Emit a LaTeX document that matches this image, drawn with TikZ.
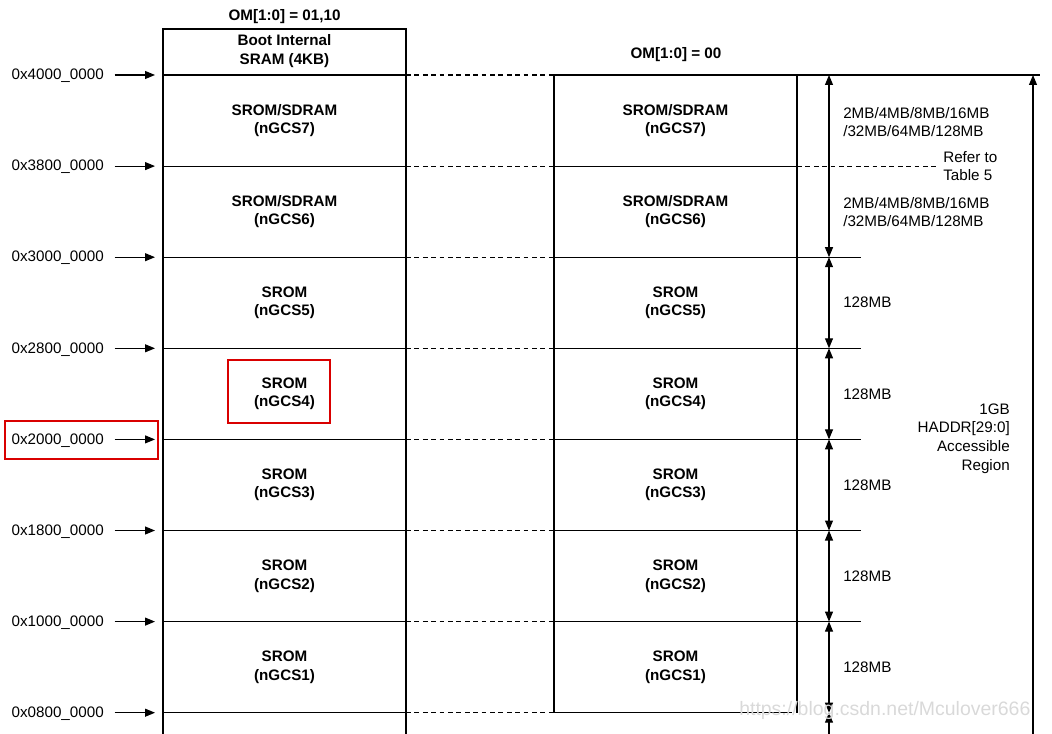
\documentclass[tikz,border=0pt]{standalone}
\usepackage{fontspec}
\setmainfont{Liberation Sans}
\usetikzlibrary{arrows.meta}

\begin{document}
\begin{tikzpicture}[x=0.75pt,y=-0.75pt,
    every node/.style={font=\fontsize{11.4}{13.9}\selectfont, inner sep=0pt},
    region/.style={align=center, font=\fontsize{11.4}{13.9}\selectfont\bfseries},
    addr/.style={anchor=east},
    size/.style={anchor=west, align=left},
    wall/.style={line width=0.8pt},
    gap/.style={line width=0.8pt, dash pattern=on 3.6pt off 2.7pt},
    ptr/.style={line width=0.8pt, -{Triangle[length=7.5pt,width=6pt]}},
    dim/.style={line width=0.8pt, {Triangle[length=7.5pt,width=6pt]}-{Triangle[length=7.5pt,width=6pt]}},
    hilite/.style={draw=red!85!black, line width=1.6pt}
]
\useasboundingbox (0,0) rectangle (1052,734);

% boundaries of the regions
\foreach \i in {0,...,7} {
    \coordinate (L\i) at (163,75+91.1*\i);
    \coordinate (M\i) at (406,75+91.1*\i);
    \coordinate (N\i) at (554,75+91.1*\i);
    \coordinate (R\i) at (797,75+91.1*\i);
    \coordinate (D\i) at (829,75+91.1*\i);
}
\coordinate (T1) at (939,166.1);
\coordinate (Top) at (1033,75);

% columns
\draw[wall] (163,745) |- (406,29) -- (406,745);
\draw[wall] (N0) -- (N7);
\draw[wall] (R0) -- (R7);

\foreach \i in {0,...,7} {
    \draw[wall] (L\i) -- (M\i);
    \draw[gap] (M\i) -- (N\i);
}
\draw[wall] (N0) -- ([xshift=5pt]Top);
\draw[wall] (N1) -- (R1);
\draw[gap] (R1) -- (T1);
\foreach \i in {2,...,6}
    \draw[wall] (N\i) -- ([xshift=48pt]R\i);
\draw[wall] (N7) -- ([xshift=-4pt]R7);

% titles
\node[region] (om0110) at (284.5,17) {OM[1:0] = 01,10};
\node[region] (boot) at (284.5,51) {Boot Internal\\SRAM (4KB)};
\node[region] (om00) at (676,55) {OM[1:0] = 00};

% regions
\foreach \kind [count=\i, evaluate=\i as \g using int(8-\i),
        evaluate=\i as \yc using 75+91.1*(\i-0.5)] in
        {SROM/SDRAM,SROM/SDRAM,SROM,SROM,SROM,SROM,SROM} {
    \node[region] (l\g) at (284.5,\yc) {\kind\\(nGCS\g)};
    \node[region] (r\g) at (675.5,\yc) {\kind\\(nGCS\g)};
}

% addresses
\foreach \a [count=\i from 0] in {4000,3800,3000,2800,2000,1800,1000,0800} {
    \node[addr] (a\i) at (104,76+91.1*\i) {0x\a\_0000};
    \draw[ptr] ([xshift=8pt]a\i.east |- L\i) -- ([xshift=-6pt]L\i);
}

% sizes
\draw[dim] (D0) -- (D2);
\foreach \i/\j in {2/3,3/4,4/5,5/6,6/7}
    \draw[dim] (D\i) -- (D\j);
\draw[{Triangle[length=7.5pt,width=6pt]}-, line width=0.8pt] (D7) -- ++(0,30);
\draw[ptr] (1033,745) -- (Top);

\node[size] (sz7) at (843,122) {2MB/4MB/8MB/16MB\\/32MB/64MB/128MB};
\node[size] (sz6) at (843,212) {2MB/4MB/8MB/16MB\\/32MB/64MB/128MB};
\node[size] (refer) at (943,166) {Refer to\\Table 5};
\foreach \i in {2,...,6}
    \node[size] (mb\i) at (843,75+91.1*\i+45.5) {128MB};
\node[anchor=east, align=right] (haddr) at (1010,438.5) {1GB\\HADDR[29:0]\\Accessible\\Region};

% highlights
\draw[hilite] (228,360) rectangle (330,423);
\draw[hilite] (5,421) rectangle (158,459);

\node[anchor=west, text=black!15, font=\fontsize{14.6}{16}\selectfont] (wm) at (739,710) {https://blog.csdn.net/Mculover666};
\end{tikzpicture}
\end{document}
